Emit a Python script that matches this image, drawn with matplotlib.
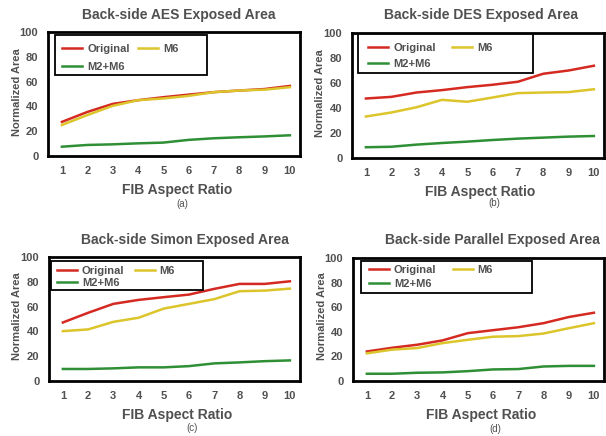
import matplotlib
matplotlib.use("Agg")
import matplotlib.pyplot as plt
from matplotlib.patches import Rectangle

plt.rcParams['font.family'] = ['Liberation Sans', 'DejaVu Sans']

x = [1, 2, 3, 4, 5, 6, 7, 8, 9, 10]
series_names = ["Original", "M6", "M2+M6"]
titles = ["Back-side AES Exposed Area", "Back-side DES Exposed Area",
          "Back-side Simon Exposed Area", "Back-side Parallel Exposed Area"]
sub_labels = ["(a)", "(b)", "(c)", "(d)"]

aes_original = [27.5, 35.5, 42, 45, 47.4, 49.5, 51.5, 52.8, 54, 56.5]
aes_m6 = [25, 33, 40.4, 45, 46.4, 48.5, 51.5, 52.8, 53.5, 55.5]
aes_m2m6 = [7.5, 8.9, 9.4, 10.2, 10.8, 13, 14.3, 15.1, 15.8, 16.7]

des_original = [47.6, 48.9, 52.4, 54.3, 56.7, 58.6, 61, 67.4, 70, 73.8]
des_m6 = [33.2, 36.4, 40.6, 46.5, 45, 48.4, 51.9, 52.4, 52.7, 55]
des_m2m6 = [8.6, 9, 10.7, 12, 13.1, 14.4, 15.5, 16.3, 17.1, 17.6]

simon_original = [47.2, 55, 62.2, 65.4, 67.6, 69.7, 74.3, 78.3, 78.3, 80.4]
simon_m6 = [40.2, 41.6, 47.7, 51, 58.4, 62.2, 66, 72.4, 72.9, 74.5]
simon_m2m6 = [9.7, 9.7, 10.2, 11, 11, 12, 14.2, 15, 16, 16.6]

par_original = [24, 27, 29.5, 33, 38.9, 41.3, 43.7, 47, 52, 55.5]
par_m6 = [22.5, 25.5, 26.8, 30.8, 33.5, 36, 36.5, 38.6, 42.9, 47]
par_m2m6 = [5.9, 5.9, 6.7, 7, 8, 9.4, 9.7, 11.8, 12.3, 12.3]

data = [
    [aes_original, aes_m6, aes_m2m6],
    [des_original, des_m6, des_m2m6],
    [simon_original, simon_m6, simon_m2m6],
    [par_original, par_m6, par_m2m6],
]
yticks = [0, 20, 40, 60, 80, 100]

colors = ["#d42a22", "#dcc52a", "#2f8f35"]
gray = "#505050"

W, H = 606, 436
fig = plt.figure(figsize=(W / 100, H / 100), dpi=100)

# axes boxes in pixel coords (left, top, right, bottom)
boxes = [(48, 32, 300, 156), (352, 33, 604, 158), (49, 257, 300, 381), (353, 258, 604, 381)]
title_pos = [(179, 15), (481, 15), (185, 240), (492, 240)]
xlabel_pos = [(177, 190), (480, 192), (177, 415), (481, 415)]
sub_pos = [(182, 204), (494, 203), (192, 428), (495, 429)]
ylabel_pos = [(17, 92), (320, 93), (17, 316), (322, 316)]
# legend frame (l, t, r, b), first handle x, first row y, col gap, label spacing
leg_cfg = [
    dict(frame=(55, 35, 207, 75), hx=62, ry=47, colsp=0.8, labsp=0.68),
    dict(frame=(358, 34, 533, 73), hx=368, ry=46, colsp=1.5, labsp=0.5),
    dict(frame=(51, 261, 203, 290), hx=57, ry=269, colsp=0.9, labsp=0.14),
    dict(frame=(361, 261, 532, 293), hx=369, ry=268, colsp=1.45, labsp=0.32),
]

for i in range(4):
    l, t, r, b = boxes[i]
    ax = fig.add_axes([l / W, 1 - b / H, (r - l) / W, (b - t) / H])
    lines = []
    for j, name in enumerate(series_names):
        ln, = ax.plot(x, data[i][j], color=colors[j], lw=1.8, label=name)
        lines.append(ln)
    ax.set_xlim(0.45, 10.4)
    ax.set_ylim(0, 100)
    ax.set_xticks(x)
    ax.set_yticks(yticks)
    ax.tick_params(length=0, labelsize=8, labelcolor=gray, pad=7)
    for lab in ax.get_xticklabels() + ax.get_yticklabels():
        lab.set_fontweight('bold')
    for s in ax.spines.values():
        s.set_linewidth(2.0)
        s.set_color('black')

    def ax_xy(px, py):
        return ((px - l) / (r - l), (b - py) / (b - t))

    cfg = leg_cfg[i]
    fl, ft, fr, fb = cfg['frame']
    x0, y0 = ax_xy(fl, fb)
    x1, y1 = ax_xy(fr, ft)
    ax.add_patch(Rectangle((x0, y0), x1 - x0, y1 - y0, transform=ax.transAxes,
                           facecolor='white', edgecolor='black', lw=1.3,
                           zorder=5, clip_on=False))
    order = [lines[0], lines[2], lines[1]]
    anchor = ax_xy(cfg['hx'], cfg['ry'] - 3)
    leg = ax.legend(order, [h.get_label() for h in order], ncol=2,
                    loc='upper left', bbox_to_anchor=anchor,
                    borderaxespad=0, borderpad=0, frameon=False,
                    handlelength=1.8, handletextpad=0.45,
                    columnspacing=cfg['colsp'], labelspacing=cfg['labsp'],
                    prop=dict(size=8, weight='bold'))
    leg.set_zorder(6)
    for txt in leg.get_texts():
        txt.set_color(gray)

    tx, ty = title_pos[i]
    fig.text(tx / W, 1 - ty / H, titles[i], ha='center', va='center',
             fontsize=10, fontweight='bold', color=gray)
    xx, xy = xlabel_pos[i]
    fig.text(xx / W, 1 - xy / H, "FIB Aspect Ratio", ha='center', va='center',
             fontsize=10, fontweight='bold', color=gray)
    sx, sy = sub_pos[i]
    fig.text(sx / W, 1 - sy / H, sub_labels[i], ha='center', va='center',
             fontsize=7, color=gray)
    yx, yy = ylabel_pos[i]
    fig.text(yx / W, 1 - yy / H, "Normalized Area", ha='center', va='center',
             rotation=90, fontsize=8, fontweight='bold', color=gray)

fig.savefig("out.png", dpi=100)
